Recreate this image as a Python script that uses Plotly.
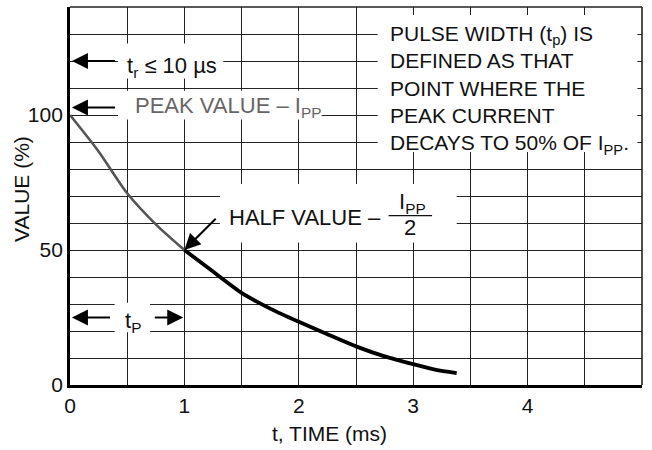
import plotly.graph_objects as go

# ---- data ----
rise_time_ms = [0, 0.25, 0.5, 0.75, 1.0]
rise_value_pct = [100, 86.5, 71, 59.5, 50]
decay_time_ms = [1.0, 1.25, 1.5, 1.75, 2.0, 2.25, 2.5, 2.75, 3.0, 3.2, 3.38]
decay_value_pct = [50, 42, 34.1, 28.3, 23.4, 18.8, 14.3, 10.6, 7.7, 5.6, 4.4]

x_grid_vals = [0, 0.5, 1, 1.5, 2, 2.5, 3, 3.5, 4, 4.5]
x_tick_text = ["0", " ", "1", " ", "2", " ", "3", " ", "4", " "]
y_grid_vals = [0, 10, 20, 30, 40, 50, 60, 70, 80, 90, 100, 110, 120, 130]
y_tick_text = ["0", " ", " ", " ", " ", "50", " ", " ", " ", " ", "100", " ", " ", " "]

FONT = "Liberation Sans, Arial, Helvetica, sans-serif"
INK = "#111111"
FS = 22

fig = go.Figure()
fig.add_trace(go.Scatter(x=rise_time_ms, y=rise_value_pct, mode="lines",
                         line=dict(color="#555555", width=2.6, shape="spline", smoothing=0.8),
                         hoverinfo="skip"))
fig.add_trace(go.Scatter(x=decay_time_ms, y=decay_value_pct, mode="lines",
                         line=dict(color="#000000", width=3.8, shape="spline", smoothing=0.5),
                         hoverinfo="skip"))

# white label backgrounds (between gridlines and traces)
boxes = [
    (0.42, 1.34, 113.5, 126.5),   # t_r label
    (0.42, 2.20, 98.3, 109.0),    # peak value label
    (2.69, 4.96, 86.3, 137.0),    # pulse width note
    (1.31, 3.38, 52.8, 74.4),     # half value label
    (0.39, 0.70, 19.5, 30.5),     # t_P label
]
for x0, x1, y0, y1 in boxes:
    fig.add_shape(type="rect", xref="x", yref="y", x0=x0, x1=x1, y0=y0, y1=y1,
                  fillcolor="white", line=dict(width=0), layer="between")

# top and right border (thin)
fig.add_shape(type="line", xref="paper", yref="paper", x0=0, x1=1, y0=1, y1=1,
              line=dict(color="#222", width=1.6))
fig.add_shape(type="line", xref="paper", yref="paper", x0=1, x1=1, y0=0, y1=1,
              line=dict(color="#222", width=1.6))
# fraction bar for Ipp/2
fig.add_shape(type="line", xref="x", yref="y", x0=2.785, x1=3.165, y0=62.7, y1=62.7,
              line=dict(color=INK, width=1.2))

# arrows: (tip_x, tip_y, tail_x, tail_y)
arrows = [
    (-0.044, 120, -0.50, 120),
    (0.017, 120, 0.42, 120),
    (0.017, 102.8, 0.42, 102.8),
    (1.0, 50, 1.30, 62.7),
    (0.017, 25, 0.376, 25),
    (0.99, 25, 0.715, 25),
]
for tx, ty, sx, sy in arrows:
    fig.add_annotation(x=tx, y=ty, ax=sx, ay=sy, xref="x", yref="y", axref="x", ayref="y",
                       text=" ", showarrow=True, arrowhead=2, arrowsize=1.6, arrowwidth=2,
                       arrowcolor="#000", standoff=0, startstandoff=0)

def label(text, x, y, size=FS, color=INK, xanchor="center", yanchor="middle", align="center",
          xref="x", yref="y", angle=0):
    fig.add_annotation(x=x, y=y, xref=xref, yref=yref, text=text, showarrow=False,
                       font=dict(family=FONT, size=size, color=color), xanchor=xanchor,
                       yanchor=yanchor, align=align, textangle=angle)

label("t<sub>r</sub> ≤ 10 µs", 0.89, 117.7)
label("PEAK VALUE – I<sub>PP</sub>", 1.377, 102.8, color="#666666")
label("PULSE WIDTH (t<sub>p</sub>) IS<br>DEFINED AS THAT<br>POINT WHERE THE<br>PEAK CURRENT<br>"
      "DECAYS TO 50% OF I<sub>PP</sub>.", 2.78, 109.2, xanchor="left", align="left", size=21)
label("HALF VALUE –", 1.375, 62.2, size=22, xanchor="left")
label("I<sub>PP</sub>", 2.99, 67.4)
label("2", 2.969, 58.4)
label("t<sub>P</sub>", 0.554, 23.5)
label("VALUE (%)", -0.084, 72.6, xref="paper", angle=-90, size=21)
label("t, TIME (ms)", 0.4545, -0.127, xref="paper", yref="paper", size=21)

fig.update_xaxes(range=[0, 5], tickvals=x_grid_vals, ticktext=x_tick_text,
                 showgrid=True, gridcolor="#222222", gridwidth=1.2,
                 showline=True, linecolor="#000", linewidth=2.8, zeroline=False,
                 ticks="", automargin=False,
                 tickfont=dict(family=FONT, size=21, color=INK), fixedrange=True)
fig.update_yaxes(range=[0, 140], tickvals=y_grid_vals, ticktext=y_tick_text,
                 showgrid=True, gridcolor="#222222", gridwidth=1.2,
                 showline=True, linecolor="#000", linewidth=2.8, zeroline=False,
                 ticks="", automargin=False,
                 tickfont=dict(family=FONT, size=21, color=INK), fixedrange=True)

fig.update_layout(width=652, height=450, margin=dict(l=70, r=10, t=7, b=65, autoexpand=False),
                  plot_bgcolor="white", paper_bgcolor="white", showlegend=False)

fig.write_html("out.html", config={"displayModeBar": False},
               post_script="document.body.style.margin='0';")
